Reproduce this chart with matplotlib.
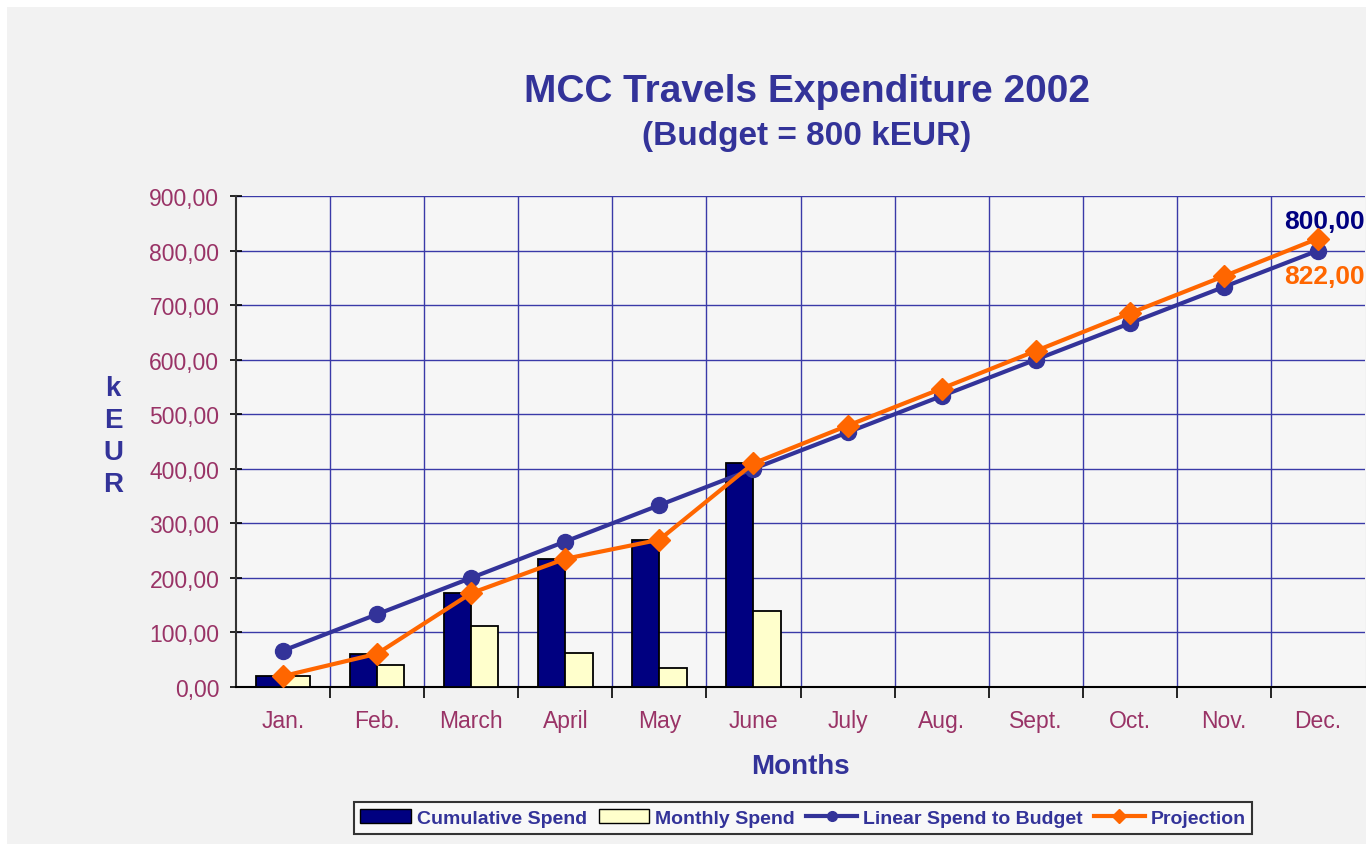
import matplotlib.pyplot as plt
from matplotlib.patches import Rectangle, Patch
from matplotlib.lines import Line2D
import numpy as np

plt.rcParams['font.family'] = ['Liberation Sans', 'DejaVu Sans']

months = ['Jan.', 'Feb.', 'March', 'April', 'May', 'June', 'July', 'Aug.', 'Sept.', 'Oct.', 'Nov.', 'Dec.']
cumulative = [20, 61, 172, 235, 270, 410]
monthly = [20, 41, 111, 63, 35, 140]
linear_budget = [66.67, 133.33, 200, 266.67, 333.33, 400, 466.67, 533.33, 600, 666.67, 733.33, 800]
projection = [20, 61, 172, 235, 270, 410, 479, 547, 616, 685, 753, 822]
y_ticks = [0, 100, 200, 300, 400, 500, 600, 700, 800, 900]

navy = '#000080'
title_blue = '#333399'
maroon = '#993366'
orange = '#ff6600'

fig = plt.figure(figsize=(13.66, 8.45), dpi=100, facecolor='white')
fig.patches.append(Rectangle((7 / 1366, 0), 1, (845 - 8) / 845, transform=fig.transFigure,
                             facecolor='#f2f2f2', edgecolor='none', zorder=-10))

ax = fig.add_axes([236 / 1366, (845 - 688) / 845, (1365 - 236) / 1366, (688 - 197) / 845])
ax.set_facecolor('#f6f6f6')

x = np.arange(len(months))
bw = 0.29
ax.bar(x[:len(cumulative)] - bw / 2, cumulative, bw, color=navy, edgecolor='black', linewidth=1.3, zorder=3)
ax.bar(x[:len(monthly)] + bw / 2, monthly, bw, color='#ffffcc', edgecolor='black', linewidth=1.3, zorder=3)
ax.plot(x, linear_budget, color=title_blue, lw=3, marker='o', markersize=11.5, zorder=4)
ax.plot(x, projection, color=orange, lw=3, marker='D', markersize=11.5, zorder=5)

ax.set_xlim(-0.5, 11.5)
ax.set_ylim(0, 900)
ax.set_yticks(y_ticks)
ax.set_yticklabels([f'{v:.2f}'.replace('.', ',') for v in y_ticks], color=maroon, fontsize=16.5)
ax.set_xticks(x)
ax.set_xticklabels(months, color=maroon, fontsize=16.5)
ax.set_xticks(np.arange(0.5, 11.5, 1), minor=True)
ax.tick_params(axis='x', which='major', length=0, pad=16)
ax.tick_params(axis='x', which='minor', length=8, width=1.2, color='black', direction='out')
ax.tick_params(axis='y', length=8, width=1.2, direction='inout', pad=8)

ax.grid(axis='y', color='#3a3aa8', lw=1, zorder=1)
ax.grid(axis='x', which='minor', color='#3a3aa8', lw=1, zorder=1)
ax.grid(axis='x', which='major', visible=False)
for s in ['top', 'right']:
    ax.spines[s].set_visible(False)
ax.spines['left'].set_color('#333333')
ax.spines['left'].set_linewidth(1.5)
ax.spines['bottom'].set_color('black')
ax.spines['bottom'].set_linewidth(1.5)

ax.text(10.64, 854, f'{linear_budget[-1]:.2f}'.replace('.', ','), color=navy, fontsize=19,
        fontweight='bold', ha='left', va='center', clip_on=False)
ax.text(10.64, 753, f'{projection[-1]:.2f}'.replace('.', ','), color=orange, fontsize=19,
        fontweight='bold', ha='left', va='center', clip_on=False)

fig.text(807 / 1366, 1 - 92 / 845, 'MCC Travels Expenditure 2002', color=title_blue,
         fontsize=28, fontweight='bold', ha='center', va='center')
fig.text(807 / 1366, 1 - 137 / 845, '(Budget = 800 kEUR)', color=title_blue,
         fontsize=24, fontweight='bold', ha='center', va='center')
fig.text(800 / 1366, 1 - 767 / 845, 'Months', color=title_blue,
         fontsize=20, fontweight='bold', ha='center', va='center')
fig.text(113 / 1366, 1 - 437 / 845, 'k\nE\nU\nR', color=title_blue, fontsize=20,
         fontweight='bold', ha='center', va='center', linespacing=1.3)

handles = [Patch(facecolor=navy, edgecolor='black'),
           Patch(facecolor='#ffffcc', edgecolor='black'),
           Line2D([], [], color=title_blue, lw=3, marker='o', markersize=7),
           Line2D([], [], color=orange, lw=3, marker='D', markersize=7)]
labels = ['Cumulative Spend', 'Monthly Spend', 'Linear Spend to Budget', 'Projection']
leg = fig.legend(handles, labels, loc='center', bbox_to_anchor=(803 / 1366, 1 - 819 / 845),
                 ncol=4, frameon=True, fancybox=False, edgecolor='#333333', facecolor='#f8f8f8',
                 framealpha=1, prop={'weight': 'bold', 'size': 14}, handlelength=2.6,
                 handletextpad=0.3, columnspacing=0.6, borderpad=0.35)
leg.get_frame().set_linewidth(1.5)
for t in leg.get_texts():
    t.set_color(title_blue)

fig.savefig('out.png', dpi=100, facecolor=fig.get_facecolor())
